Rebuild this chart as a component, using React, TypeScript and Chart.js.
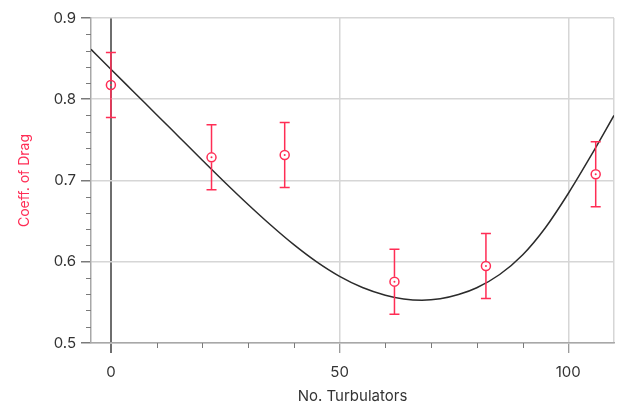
import React, { useEffect, useRef } from 'react';
import { Chart, registerables } from 'chart.js';

Chart.register(...registerables);

// Measured data
const turbulators = [0, 22, 38, 62, 82, 106];
const dragCoeff = [0.8175, 0.7285, 0.7314, 0.5755, 0.5948, 0.7076];
const dragError = [0.04, 0.04, 0.04, 0.04, 0.04, 0.04];

// Fitted curve
const fitX = [-4.35, 0, 5, 10, 15, 20, 25, 30, 35, 40, 45, 50, 55, 60, 64, 68, 72, 76, 80, 85, 90, 95, 100, 105, 110];
const fitY = [0.8614, 0.837, 0.809, 0.781, 0.753, 0.725, 0.6973, 0.6705, 0.6449, 0.621, 0.5998, 0.582, 0.5683, 0.5588, 0.5542, 0.5526, 0.5544, 0.5596, 0.568, 0.5843, 0.6083, 0.6419, 0.684, 0.7308, 0.7801];

// Axis ticks
const xTicks = [0, 10, 20, 30, 40, 50, 60, 70, 80, 90, 100, 110];
const xLabelled = [0, 50, 100];
const yTicks = [0.5, 0.52, 0.54, 0.56, 0.58, 0.6, 0.62, 0.64, 0.66, 0.68, 0.7, 0.72, 0.74, 0.76, 0.78, 0.8, 0.82, 0.84, 0.86, 0.88, 0.9];
const yLabelled = [0.5, 0.6, 0.7, 0.8, 0.9];

const PINK = '#ff2d55';
const GRID = '#d6d6d6';
const AXIS = '#a8a8a8';
const TICK = '#7a7a7a';
const FONT = 'Inter';

const near = (v: number, list: number[]) => list.some((l) => Math.abs(l - v) < 1e-6);

const extrasPlugin = {
  id: 'extras',
  afterDatasetsDraw(chart: any) {
    const { ctx, scales } = chart;
    const x = scales.x;
    const y = scales.y;
    ctx.save();
    // minor ticks
    ctx.strokeStyle = TICK;
    ctx.lineWidth = 1;
    ctx.beginPath();
    xTicks.forEach((v) => {
      if (near(v, xLabelled) || v === 110) return;
      const px = Math.round(x.getPixelForValue(v)) + 0.5;
      ctx.moveTo(px, y.bottom);
      ctx.lineTo(px, y.bottom + 5);
    });
    yTicks.forEach((v) => {
      if (near(v, yLabelled)) return;
      const py = Math.round(y.getPixelForValue(v)) + 0.5;
      ctx.moveTo(x.left - 5, py);
      ctx.lineTo(x.left, py);
    });
    ctx.stroke();
    // error bars
    ctx.strokeStyle = PINK;
    ctx.fillStyle = PINK;
    ctx.lineWidth = 1.5;
    turbulators.forEach((t, i) => {
      const px = x.getPixelForValue(t);
      const py = y.getPixelForValue(dragCoeff[i]);
      const top = y.getPixelForValue(dragCoeff[i] + dragError[i]);
      const bot = y.getPixelForValue(dragCoeff[i] - dragError[i]);
      const r = 5;
      ctx.beginPath();
      ctx.moveTo(px, top);
      ctx.lineTo(px, py - r);
      ctx.moveTo(px, py + r);
      ctx.lineTo(px, bot);
      ctx.moveTo(px - 5, top);
      ctx.lineTo(px + 5, top);
      ctx.moveTo(px - 5, bot);
      ctx.lineTo(px + 5, bot);
      ctx.stroke();
      ctx.beginPath();
      ctx.arc(px, py, 1, 0, Math.PI * 2);
      ctx.fill();
    });
    ctx.restore();
  },
};

export default function App() {
  const ref = useRef<HTMLCanvasElement | null>(null);

  useEffect(() => {
    if (!ref.current) return;
    const chart = new Chart(ref.current, {
      type: 'line',
      data: {
        datasets: [
          {
            label: 'Fit',
            data: fitX.map((v, i) => ({ x: v, y: fitY[i] })),
            borderColor: '#2b2b2b',
            borderWidth: 1.5,
            pointRadius: 0,
            cubicInterpolationMode: 'monotone',
            fill: false,
          },
          {
            label: 'Coeff. of Drag',
            data: turbulators.map((v, i) => ({ x: v, y: dragCoeff[i] })),
            showLine: false,
            pointStyle: 'circle',
            pointRadius: 4.5,
            pointBorderWidth: 1.5,
            borderColor: PINK,
            pointBorderColor: PINK,
            pointBackgroundColor: 'rgba(0,0,0,0)',
          },
        ],
      },
      options: {
        animation: false,
        responsive: false,
        devicePixelRatio: 1,
        layout: { padding: { top: 18, right: 1, left: 0, bottom: 0 } },
        plugins: { legend: { display: false }, tooltip: { enabled: false } },
        scales: {
          x: {
            type: 'linear',
            min: -4.35,
            max: 110,
            afterBuildTicks: (s: any) => {
              s.ticks = xTicks.map((v) => ({ value: v }));
            },
            afterFit: (s: any) => {
              s.height = 62;
              s.paddingLeft = 0;
              s.paddingRight = 0;
            },
            border: { color: AXIS, width: 1.5 },
            grid: {
              color: (c: any) => {
                const v = c.tick?.value;
                if (v === 0) return '#6e6e6e';
                if (v === 50 || v === 100 || v === 110) return GRID;
                return 'rgba(0,0,0,0)';
              },
              lineWidth: (c: any) => (c.tick?.value === 0 ? 2 : 1.5),
              tickColor: (c: any) => {
                const v = c.tick?.value;
                if (v === 0) return '#6e6e6e';
                if (v === 50 || v === 100) return TICK;
                return 'rgba(0,0,0,0)';
              },
              tickWidth: (c: any) => (c.tick?.value === 0 ? 2 : 1),
              tickLength: 10,
            },
            ticks: {
              autoSkip: false,
              maxRotation: 0,
              padding: 10,
              color: '#333',
              font: { family: FONT, size: 15 },
              callback: (v: any) => (near(Number(v), xLabelled) ? String(v) : ''),
            },
            title: {
              display: true,
              text: 'No. Turbulators',
              color: '#333',
              font: { family: FONT, size: 15 },
              padding: { top: 0, bottom: 0 },
            },
          },
          y: {
            type: 'linear',
            min: 0.5,
            max: 0.9,
            afterBuildTicks: (s: any) => {
              s.ticks = yTicks.map((v) => ({ value: v }));
            },
            afterFit: (s: any) => {
              s.width = 91;
            },
            border: { color: AXIS, width: 1.5 },
            grid: {
              color: (c: any) => (near(c.tick?.value, yLabelled) ? GRID : 'rgba(0,0,0,0)'),
              lineWidth: 1.5,
              tickColor: (c: any) => (near(c.tick?.value, yLabelled) ? TICK : 'rgba(0,0,0,0)'),
              tickLength: 10,
            },
            ticks: {
              autoSkip: false,
              padding: 5,
              color: '#333',
              font: { family: FONT, size: 15 },
              callback: (v: any) => (near(Number(v), yLabelled) ? Number(v).toFixed(1) : ''),
            },
            title: {
              display: true,
              text: 'Coeff. of Drag',
              color: PINK,
              font: { family: FONT, size: 14 },
              padding: { top: 16, bottom: 0 },
            },
          },
        },
      },
      plugins: [extrasPlugin],
    });
    return () => chart.destroy();
  }, []);

  return (
    <div style={{ position: 'absolute', left: 0, top: 0, width: 620, height: 405, background: '#fff' }}>
      <canvas ref={ref} width={620} height={405} style={{ display: 'block' }} />
    </div>
  );
}
